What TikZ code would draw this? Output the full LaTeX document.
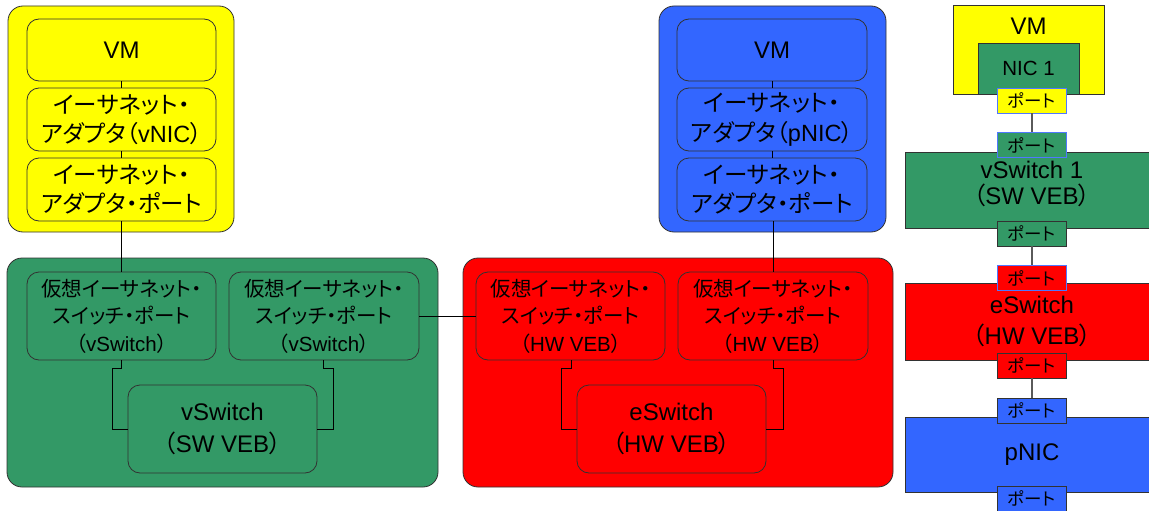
\documentclass[tikz,border=0pt]{standalone}
\usepackage{fontspec}
\setmainfont{Liberation Sans}
\newfontfamily\jpf[RawFeature=+palt]{Noto Sans CJK JP}
\newcommand\J[1]{{\jpf #1}}
\definecolor{cyel}{RGB}{255,255,0}
\definecolor{cgrn}{RGB}{51,153,102}
\definecolor{cred}{RGB}{255,0,0}
\definecolor{cblu}{RGB}{51,102,255}
\definecolor{cedge}{RGB}{50,50,50}
\definecolor{cpedge}{RGB}{80,120,255}
\definecolor{cconn}{RGB}{90,90,90}
\tikzset{
  outer/.style={draw=cedge, line width=0.8pt, rounded corners=15pt, inner sep=0pt},
  inner/.style={draw=cedge, line width=0.8pt, rounded corners=12pt, inner sep=0pt, align=center},
  bigtxt/.style={font=\fontsize{23.5}{29.5}\selectfont},
  sptxt/.style={font=\fontsize{20.5}{27.5}\selectfont},
  swtxt/.style={font=\fontsize{24}{32}\selectfont},
  titletxt/.style={font=\fontsize{24}{28}\selectfont},
  rbox/.style={draw=cedge, line width=0.8pt, inner sep=0pt, align=center},
  pbox/.style={draw=cedge, line width=0.8pt, inner sep=0pt, minimum width=69pt, minimum height=25pt, font=\fontsize{17.5}{19}\selectfont},
  pboxb/.style={pbox, draw=cpedge},
  conn/.style={draw=black, line width=0.8pt},
  rconn/.style={draw=cconn, line width=2pt},
}
\begin{document}
\begin{tikzpicture}[x=1pt, y=-1pt]
\useasboundingbox (0,0) rectangle (1149,511);
% ---------- left yellow VM ----------
\node[outer, fill=cyel, minimum width=226pt, minimum height=226pt] (ybig) at (121,119) {};
\node[inner, fill=cyel, minimum width=189pt, minimum height=62pt, titletxt] (yvm) at (121.5,50) {VM};
\node[inner, fill=cyel, minimum width=189pt, minimum height=63pt, bigtxt] (ynic) at (121.5,119.5) {\J{イーサネット・}\\\J{アダプタ（}vNIC\J{）}};
\node[inner, fill=cyel, minimum width=189pt, minimum height=63pt, bigtxt] (yport) at (121.5,189.5) {\J{イーサネット・}\\\J{アダプタ・ポート}};
\draw[conn] (yvm) -- (ynic);
\draw[conn] (ynic) -- (yport);
% ---------- blue VM ----------
\node[outer, fill=cblu, minimum width=227pt, minimum height=226pt] (bbig) at (772.5,119) {};
\node[inner, fill=cblu, minimum width=190pt, minimum height=62pt, titletxt] (bvm) at (772,50) {VM};
\node[inner, fill=cblu, minimum width=190pt, minimum height=63pt, bigtxt] (bnic) at (772,119.5) {\J{イーサネット・}\\\J{アダプタ（}pNIC\J{）}};
\node[inner, fill=cblu, minimum width=190pt, minimum height=63pt, bigtxt] (bport) at (772,189.5) {\J{イーサネット・}\\\J{アダプタ・ポート}};
\draw[conn] (bvm) -- (bnic);
\draw[conn] (bnic) -- (bport);
% ---------- green vSwitch ----------
\node[outer, fill=cgrn, minimum width=431pt, minimum height=229pt] (gbig) at (222.5,372.5) {};
\node[inner, fill=cgrn, minimum width=189pt, minimum height=88pt, sptxt] (gp1) at (121.5,316) {\J{仮想イーサネット・}\\\J{スイッチ・ポート}\\\J{（}vSwitch\J{）}};
\node[inner, fill=cgrn, minimum width=190pt, minimum height=88pt, sptxt] (gp2) at (324,316) {\J{仮想イーサネット・}\\\J{スイッチ・ポート}\\\J{（}vSwitch\J{）}};
\node[inner, fill=cgrn, minimum width=189pt, minimum height=88pt, swtxt] (gsw) at (222.5,429) {vSwitch\\\J{（}SW VEB\J{）}};
\coordinate (g1a) at (121.5,368);
\coordinate (g1b) at (112,368);
\coordinate (g1c) at (112,429);
\coordinate (g2a) at (323,368);
\coordinate (g2b) at (333,368);
\coordinate (g2c) at (333,429);
\draw[conn] (gp1.south) -- (g1a) -- (g1b) -- (g1c) -- (gsw.west);
\draw[conn] (gp2.south -| g2a) -- (g2a) -- (g2b) -- (g2c) -- (gsw.east);
% ---------- red eSwitch ----------
\node[outer, fill=cred, minimum width=430pt, minimum height=229pt] (rbig) at (678,372.5) {};
\node[inner, fill=cred, minimum width=189pt, minimum height=88pt, sptxt] (rp1) at (570.5,316) {\J{仮想イーサネット・}\\\J{スイッチ・ポート}\\\J{（}HW VEB\J{）}};
\node[inner, fill=cred, minimum width=190pt, minimum height=88pt, sptxt] (rp2) at (773,316) {\J{仮想イーサネット・}\\\J{スイッチ・ポート}\\\J{（}HW VEB\J{）}};
\node[inner, fill=cred, minimum width=189pt, minimum height=88pt, swtxt] (rsw) at (671.5,429) {eSwitch\\\J{（}HW VEB\J{）}};
\coordinate (r1a) at (571,368);
\coordinate (r1b) at (561,368);
\coordinate (r1c) at (561,429);
\coordinate (r2a) at (773,368);
\coordinate (r2b) at (783,368);
\coordinate (r2c) at (783,429);
\draw[conn] (rp1.south -| r1a) -- (r1a) -- (r1b) -- (r1c) -- (rsw.west);
\draw[conn] (rp2.south) -- (r2a) -- (r2b) -- (r2c) -- (rsw.east);
% ---------- cross connectors ----------
\draw[conn] (yport.south) -- (gp1.north);
\draw[conn] (bport.south -| rp2.north) -- (rp2.north);
\draw[conn] (gp2.east) -- (rp1.west);
% ---------- right panel ----------
\node[rbox, fill=cyel, minimum width=151pt, minimum height=89pt] (rvm) at (1028.5,49.5) {};
\node[titletxt] (rvmt) at (1028.5,26) {VM};
\node[rbox, fill=cgrn, minimum width=101pt, minimum height=51pt, font=\fontsize{20.5}{24}\selectfont] (nic1) at (1028.5,68.5) {NIC 1};
\node[rbox, fill=cgrn, minimum width=254pt, minimum height=76pt] (vsw1) at (1032,190) {};
\node[font=\fontsize{24}{25.5}\selectfont, align=center] (vsw1t) at (1032,184) {vSwitch 1\\\J{（}SW VEB\J{）}};
\node[rbox, fill=cred, minimum width=254pt, minimum height=77pt, font=\fontsize{24}{31}\selectfont] (esw) at (1032,321.5) {eSwitch\\\J{（}HW VEB\J{）}};
\node[rbox, fill=cblu, minimum width=254pt, minimum height=75pt, titletxt] (pnic) at (1032,454.5) {pNIC};
\node[pboxb, fill=cyel] (pt1) at (1031.5,100.5) {\J{ポート}};
\node[pboxb, fill=cgrn] (pt2) at (1031.5,145) {\J{ポート}};
\node[pbox, fill=cgrn] (pt3) at (1031.5,233.5) {\J{ポート}};
\node[pboxb, fill=cred] (pt4) at (1031.5,278) {\J{ポート}};
\node[pbox, fill=cred] (pt5) at (1031.5,365.5) {\J{ポート}};
\node[pbox, fill=cblu] (pt6) at (1031.5,410.5) {\J{ポート}};
\node[pbox, fill=cblu] (pt7) at (1031.5,498.5) {\J{ポート}};
\draw[rconn] (pt1) -- (pt2);
\draw[rconn] (pt3) -- (pt4);
\draw[rconn] (pt5) -- (pt6);
\end{tikzpicture}
\end{document}
